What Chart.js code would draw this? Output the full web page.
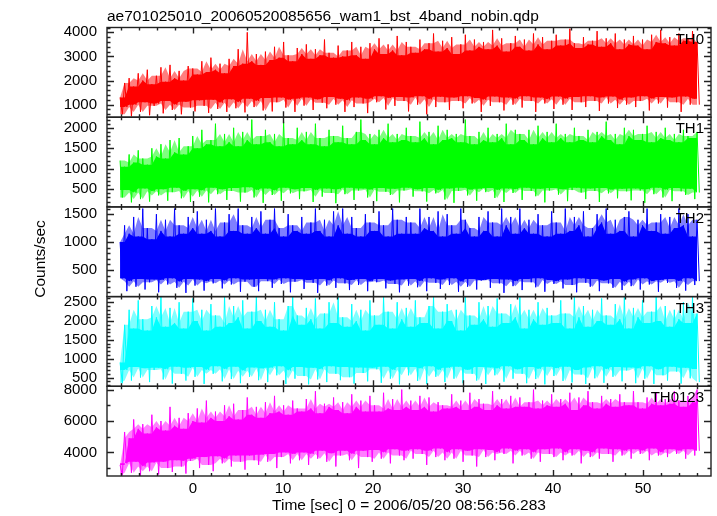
<!DOCTYPE html>
<html>
<head>
<meta charset="utf-8">
<script src="https://cdn.jsdelivr.net/npm/chart.js@4.4.1/dist/chart.umd.min.js"></script>
<style>
  html, body { margin: 0; padding: 0; background: #fff; }
  #wrap { position: relative; width: 717px; height: 516px; }
</style>
</head>
<body>
<div id="wrap"><canvas id="lc" width="717" height="516"></canvas></div>
<script>
// ---- text ----
const TITLE = 'ae701025010_20060520085656_wam1_bst_4band_nobin.qdp';
const X_TITLE = 'Time [sec] 0 = 2006/05/20 08:56:56.283';
const Y_TITLE = 'Counts/sec';

// ---- axes ----
const T_START = -8.1, T_END = 56.0;      // first / last time bin
const X_MIN = -9.55, X_MAX = 57.55;
const X_LABELS = [0, 10, 20, 30, 40, 50];

const bands = ['TH0', 'TH1', 'TH2', 'TH3', 'TH0123'];
const colors = ['#ff0000', '#00ff00', '#0000ff', '#00ffff', '#ff00ff'];
const paleColors = ['rgba(255,0,0,0.5)', 'rgba(0,255,0,0.5)', 'rgba(0,0,255,0.5)', 'rgba(0,255,255,0.5)', 'rgba(255,0,255,0.5)'];
const yMin = [480, 70, 23, 268, 2495];
const yMax = [4200, 2258, 1630, 2650, 8210];
const yLabels = [
    [1000, 2000, 3000, 4000],
    [500, 1000, 1500, 2000],
    [500, 1000, 1500],
    [500, 1000, 1500, 2000, 2500],
    [4000, 6000, 8000]
];
const yMinorStep = [200, 100, 100, 100, 1000];

// ---- count rates ----
// one (upper, lower) excursion pair per half-second bin
const th0 = [
    1300,600,1900,900,2100,520,1750,1000,2300,700,2000,1100,2450,560,1850,950,
    2200,1050,2550,640,1950,1150,2650,780,2100,1000,2400,600,2000,1120,2600,880,
    2500,720,2250,1180,2800,950,2350,660,2950,1200,2450,820,2700,1080,2300,700,
    2900,1220,2600,850,3300,1100,2700,680,4000,1250,2800,900,3100,1150,2650,760,
    3200,1280,2850,720,3400,1100,2950,1300,3600,880,3050,1200,2800,700,3350,1250,
    3100,960,3500,1300,2900,780,3300,1220,3050,1080,3700,850,3150,1320,2950,1000,
    3450,1250,3000,700,3250,1180,3600,900,3050,1300,3400,1050,2900,650,3550,1240,
    3300,1100,3750,1350,3100,800,3500,1280,3250,950,3850,1320,3050,1150,3600,720,
    3400,1300,3150,1000,3700,1350,3300,600,3550,1220,3950,900,3200,1330,3650,1100,
    3350,780,3800,1300,3100,1150,3500,850,3900,1350,3250,1050,3700,1280,3400,700,
    3600,1200,3300,950,4100,1340,3450,1100,3750,760,3200,1300,3550,1000,3850,1250,
    3400,880,3700,1350,3250,1150,3950,700,3500,1300,3800,1050,3300,1220,3650,820,
    3900,1340,3450,1000,3700,1250,4150,780,3550,1320,3350,1100,3800,900,3500,1350,
    3650,1150,4050,740,3400,1300,3750,1050,3550,1340,3950,860,3300,1200,3700,1000,
    3500,1300,3850,900,3450,1150,3700,1350,3300,760,3900,1250,3600,1050,4100,1320,
    3550,880,3800,1300,3450,1100,3950,700,3650,1340,3750,1000,4050,1250,3600,1000
];
const th1 = [
    1200,300,1050,480,1350,180,1150,420,1450,260,1250,520,1100,200,1500,450,
    1300,350,1600,500,1250,220,1700,430,1400,540,1750,280,1350,460,1550,190,
    1800,500,1500,320,1950,470,1600,180,1700,540,2100,380,1550,500,1850,240,
    1650,460,2000,530,1550,200,1900,420,1700,550,2200,300,1600,480,1800,170,
    1950,520,1650,360,1850,470,1550,220,2150,540,1750,400,1600,500,2000,260,
    1700,450,1900,530,1600,190,2100,480,1750,320,1550,520,1950,410,1800,160,
    1650,500,2050,380,1750,540,1600,240,1900,470,2200,520,1700,300,1850,490,
    1600,210,1950,530,1750,440,2100,360,1650,510,1850,180,1700,470,2000,540,
    1800,320,1650,500,2150,450,1750,200,1900,530,1600,400,2050,480,1700,250,
    1950,520,1750,170,1850,460,1650,540,2200,350,1800,490,1600,220,1900,510,
    1700,430,2000,530,1650,290,1850,480,1750,190,2100,520,1600,410,1950,500,
    1850,240,1700,540,1950,460,1600,330,2050,510,1750,180,1900,470,1650,530,
    2100,370,1750,500,1850,210,1650,480,2000,540,1800,420,1700,260,1950,520,
    1650,460,1900,190,1800,530,2150,400,1700,490,1850,280,1600,510,2000,450,
    1800,230,1950,520,1700,470,1850,170,2050,500,1650,380,1900,540,1750,300,
    2000,490,1700,210,1850,530,1650,450,1950,360,1800,510,1750,260,1900,420
];
const th2 = [
    1000,350,1300,120,1150,300,1450,200,1100,340,1600,150,1250,280,1050,330,
    1500,100,1200,320,1400,240,1100,350,1600,180,1300,290,1150,90,1450,340,
    1250,220,1550,330,1150,130,1400,300,1200,260,1600,340,1100,170,1350,310,
    1500,240,1200,350,1600,110,1300,290,1150,330,1450,200,1250,120,1550,340,
    1150,300,1400,180,1600,330,1250,250,1100,350,1500,100,1300,290,1200,340,
    1450,160,1150,320,1350,270,1600,90,1200,340,1400,220,1100,310,1550,180,
    1300,350,1600,260,1150,140,1450,320,1250,230,1100,340,1500,120,1350,300,
    1200,280,1550,340,1300,170,1100,310,1600,250,1400,100,1150,330,1450,220,
    1350,340,1150,190,1600,300,1250,120,1450,350,1200,270,1550,160,1100,330,
    1500,230,1300,350,1150,110,1600,290,1400,200,1250,340,1100,150,1450,310,
    1200,320,1550,180,1350,340,1100,260,1600,90,1300,330,1450,210,1150,300,
    1600,140,1250,340,1400,280,1150,190,1500,350,1300,110,1100,320,1550,250,
    1350,300,1150,170,1600,330,1200,230,1450,100,1300,350,1550,270,1100,200,
    1250,340,1500,120,1350,310,1600,260,1150,180,1400,340,1200,140,1450,290,
    1550,210,1100,330,1400,150,1300,350,1600,240,1200,300,1350,110,1500,320,
    1150,270,1450,340,1250,180,1600,300,1300,130,1500,350,1100,230,1400,300
];
const th3 = [
    900,350,1900,700,2300,420,1800,780,2550,500,2050,750,1750,380,2400,700,
    2100,760,2640,450,1850,720,2350,340,1950,790,2500,600,1800,420,2250,760,
    2600,520,2000,780,2300,330,1750,700,2450,600,2150,800,1850,400,2640,720,
    1950,460,2400,790,2100,350,2550,680,1800,520,2250,770,2640,430,2000,740,
    2300,380,1850,760,2500,560,2050,800,1750,330,2400,690,2640,470,2150,780,
    1900,540,2350,320,2050,760,2600,450,1800,720,2200,380,2500,800,1950,600,
    2640,430,2100,780,1850,510,2450,340,2000,770,2300,620,1750,400,2550,760,
    2150,720,1900,360,2640,790,2250,470,1800,700,2500,320,2050,780,2350,560,
    1850,780,2550,410,2100,740,1950,330,2400,800,2640,520,1800,700,2250,380,
    2450,760,2000,470,2300,790,1750,350,2640,710,2150,600,1900,420,2500,780,
    2050,330,2400,770,1850,560,2600,740,2200,390,1950,800,2450,470,2100,720,
    2640,600,1800,350,2300,780,2050,460,2500,730,1900,320,2350,790,2150,540,
    1950,750,2550,410,2200,790,1800,370,2640,700,2100,580,2400,330,1850,770,
    2300,480,2000,800,2600,360,2150,720,1900,520,2450,780,2050,400,2640,690,
    1800,770,2350,350,2100,740,2550,470,1950,800,2250,330,2640,720,2000,560,
    2400,420,1850,790,2300,660,2050,340,2500,760,1950,480,2640,730,2200,380
];
const th0123 = [
    3200,2550,5300,3300,4900,2700,6100,3400,5500,2520,5800,3100,5200,2800,6400,3350,
    5600,2600,6000,3400,5400,3000,6900,2750,5700,3500,6200,3100,5500,2650,6500,3450,
    6000,3600,6800,3000,5900,3700,7300,3200,6200,2800,6600,3750,6000,3300,7000,3600,
    6300,3100,7100,3800,6100,3400,6700,2900,7500,3800,6400,3500,6900,3200,6200,3850,
    7200,3400,6500,3900,7600,3000,6600,3700,7000,4000,6400,3300,7300,3900,6800,3500,
    6600,4000,7400,3200,6800,3900,7900,3600,6500,4100,7100,3400,6900,3950,7500,3100,
    6700,3800,7200,4100,6500,3500,7700,3900,6900,3000,7300,4100,6600,3700,7600,3400,
    7000,4150,6600,3600,7800,4000,6800,3300,7400,4200,6700,3800,8000,3500,6900,4100,
    7300,3600,6700,4200,7600,3900,6900,3200,7500,4100,6600,3700,7200,4250,7000,3500,
    6800,4000,7700,3600,6900,4200,7300,3400,6700,4100,7800,3800,6900,3100,7400,4200,
    7100,3700,6700,4150,7900,3500,7000,4000,7400,3900,6800,4250,7600,3300,6900,4100,
    7500,3800,6900,4200,7200,3600,8000,4000,6800,3400,7300,4200,7000,3900,7700,3700,
    6900,4250,7400,3500,7100,4000,7800,3800,6700,4200,7500,3300,7000,4100,7900,3700,
    7200,4000,6800,3600,7600,4250,7100,3900,7400,3400,6900,4200,7700,3800,7200,4100,
    7000,3600,7900,4200,7200,3900,6800,4100,7500,3500,7100,4250,7800,3800,7000,4000,
    7400,3700,7100,4200,7900,3900,7300,4100,6900,3600,7600,4200,7200,3800,8000,4100
];
const series = [th0, th1, th2, th3, th0123];

// half-second time bins
const nBins = th0.length / 2;
const times = [];
for (let j = 0; j < nBins; j++) times.push(T_START + (T_END - T_START) * j / (nBins - 1));
const halfBin = (T_END - T_START) / (nBins - 1) / 2;

const FONT = 'Liberation Sans, Arial, Helvetica, sans-serif';
Chart.defaults.font.family = FONT;
Chart.defaults.color = '#000';

const median3 = (a, b, c) => a + b + c - Math.max(a, b, c) - Math.min(a, b, c);

// per band: the raw trace as a thin line (spikes), a solid core where the
// neighbouring excursions all overlap, and a paler fringe out to their median
const datasets = [];
series.forEach((vals, k) => {
    const hi = [], lo = [];
    for (let j = 0; j < nBins; j++) { hi.push(vals[2 * j]); lo.push(vals[2 * j + 1]); }

    const coreHi = [], coreLo = [], midHi = [], midLo = [], trace = [];
    for (let j = 0; j < nBins; j++) {
        const a = Math.max(0, j - 1), b = Math.min(nBins - 1, j + 1);
        coreHi.push({ x: times[j], y: Math.min(hi[a], hi[j], hi[b]) });
        coreLo.push({ x: times[j], y: Math.max(lo[a], lo[j], lo[b]) });
        midHi.push({ x: times[j], y: median3(hi[a], hi[j], hi[b]) });
        midLo.push({ x: times[j], y: median3(lo[a], lo[j], lo[b]) });
        trace.push({ x: times[j], y: hi[j] });
        trace.push({ x: times[j] + halfBin, y: lo[j] });
    }
    const common = { yAxisID: 'y' + k, pointRadius: 0, tension: 0, borderWidth: 0 };
    datasets.push({ ...common, label: bands[k], data: trace,
        borderColor: colors[k], borderWidth: 1, fill: false });
    datasets.push({ ...common, label: bands[k] + ' core', data: coreHi,
        borderColor: colors[k], backgroundColor: colors[k], fill: '+1' });
    datasets.push({ ...common, label: bands[k] + ' core lo', data: coreLo,
        borderColor: colors[k], fill: false });
    datasets.push({ ...common, label: bands[k] + ' fringe', data: midHi,
        borderColor: colors[k], backgroundColor: paleColors[k], fill: '+1' });
    datasets.push({ ...common, label: bands[k] + ' fringe lo', data: midLo,
        borderColor: colors[k], fill: false });
});

const plainNumber = v => String(v);

const scales = {
    x: {
        type: 'linear',
        min: X_MIN,
        max: X_MAX,
        grid: { display: false, drawTicks: false },
        border: { display: false },
        ticks: { padding: 4, autoSkip: false, maxRotation: 0, font: { size: 15 }, callback: plainNumber },
        afterBuildTicks: s => { s.ticks = X_LABELS.map(v => ({ value: v })); },
        afterFit: s => { s.height = 40; },
        title: { display: true, text: X_TITLE, font: { size: 15.5 }, padding: { top: 0, bottom: 1 } }
    }
};
bands.forEach((b, k) => {
    scales['y' + k] = {
        type: 'linear',
        position: 'left',
        stack: 'panels',
        stackWeight: 1,
        weight: bands.length - k,   // first band on top
        min: yMin[k],
        max: yMax[k],
        grid: { display: false, drawTicks: false },
        border: { display: false },
        ticks: { padding: 10, autoSkip: false, font: { size: 15 }, callback: plainNumber },
        afterBuildTicks: s => { s.ticks = yLabels[k].map(v => ({ value: v })); },
        afterFit: s => { s.width = 107; }
    };
});

// frames, inward ticks, band names and the free text
const qdpFrame = {
    id: 'qdpFrame',
    afterDraw(chart) {
        const ctx = chart.ctx;
        const area = chart.chartArea;
        const xs = chart.scales.x;
        ctx.save();
        ctx.strokeStyle = '#222';
        ctx.lineWidth = 1.4;

        bands.forEach((b, k) => {
            const ys = chart.scales['y' + k];
            const top = ys.top, bot = ys.bottom;
            ctx.strokeRect(area.left, top, area.right - area.left, bot - top);

            ctx.beginPath();
            // x ticks, every 2 s, long ones at each 10 s
            for (let t = -8; t <= 56; t += 2) {
                const px = Math.round(xs.getPixelForValue(t)) + 0.5;
                const len = t % 10 === 0 ? 6 : 3;
                ctx.moveTo(px, top); ctx.lineTo(px, top + len);
                ctx.moveTo(px, bot); ctx.lineTo(px, bot - len);
            }
            // y ticks
            const step = yMinorStep[k];
            const major = yLabels[k][1] - yLabels[k][0];
            for (let v = Math.ceil(yMin[k] / step) * step; v <= yMax[k]; v += step) {
                const py = Math.round(ys.getPixelForValue(v)) + 0.5;
                const len = v % major === 0 ? 7 : 3.5;
                ctx.moveTo(area.left, py); ctx.lineTo(area.left + len, py);
                ctx.moveTo(area.right, py); ctx.lineTo(area.right - len, py);
            }
            ctx.stroke();

            ctx.fillStyle = '#000';
            ctx.font = '15px ' + FONT;
            ctx.textAlign = 'right';
            ctx.textBaseline = 'alphabetic';
            ctx.fillText(b, area.right - 7, top + 16);
        });

        ctx.fillStyle = '#000';
        ctx.font = '15.5px ' + FONT;
        ctx.textAlign = 'left';
        ctx.textBaseline = 'alphabetic';
        ctx.fillText(TITLE, area.left, 20.5);

        ctx.translate(41, 259);
        ctx.rotate(-Math.PI / 2);
        ctx.textAlign = 'center';
        ctx.textBaseline = 'middle';
        ctx.fillText(Y_TITLE, 0, 0);
        ctx.restore();
    }
};

new Chart(document.getElementById('lc'), {
    type: 'line',
    data: { datasets: datasets },
    options: {
        responsive: false,
        animation: false,
        events: [],
        devicePixelRatio: 1,
        layout: { padding: { top: 27.5, right: 6, left: 0, bottom: 0 } },
        plugins: { legend: { display: false }, tooltip: { enabled: false } },
        scales: scales
    },
    plugins: [qdpFrame]
});
</script>
</body>
</html>
